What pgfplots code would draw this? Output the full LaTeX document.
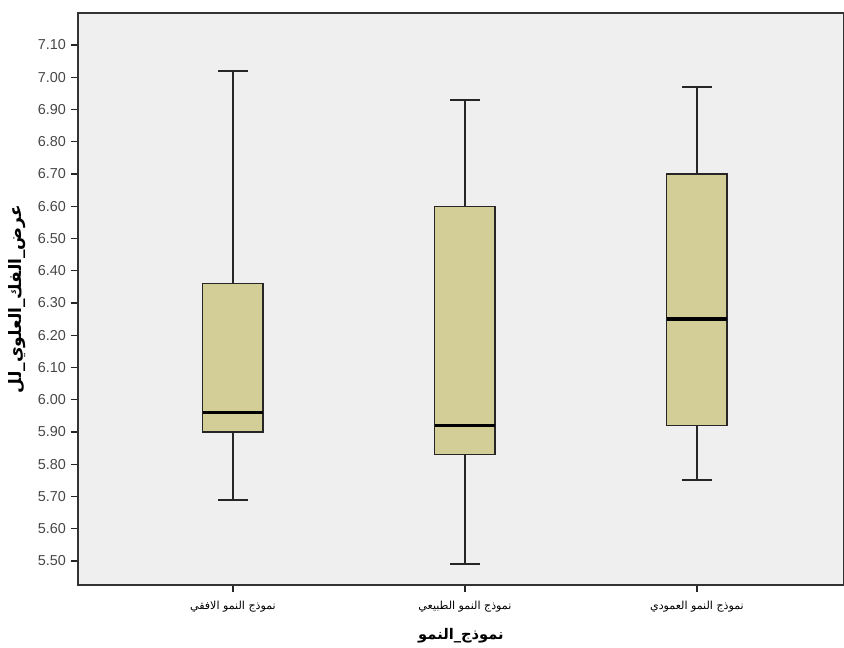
\documentclass[border=0pt]{standalone}
\usepackage{fontspec}
\setmainfont{Liberation Sans}
\newfontfamily\arabicfont[Script=Arabic]{DejaVu Sans}
\TeXXeTstate=1
\usepackage{pgfplots}
\pgfplotsset{compat=1.18}
\definecolor{bgc}{HTML}{EFEFEF}
\definecolor{boxc}{HTML}{D3CE97}
\begin{document}
\begin{tikzpicture}
\begin{axis}[
  scale only axis,
  width=574.5pt, height=429pt,
  xmin=-0.668, xmax=2.634,
  ymin=5.4256, ymax=7.199,
  axis background/.style={fill=bgc},
  axis line style={black!80, line width=1.2pt},
  tick align=outside,
  tick style={black!85, line width=1pt},
  major tick length=5.5pt,
  ytick pos=left, xtick pos=bottom,
  ytick={5.5,5.6,5.7,5.8,5.9,6.0,6.1,6.2,6.3,6.4,6.5,6.6,6.7,6.8,6.9,7.0,7.1},
  yticklabel style={/pgf/number format/fixed, /pgf/number format/fixed zerofill, /pgf/number format/precision=2, font=\fontsize{10.8}{12}\selectfont, text=black!72},
  /pgf/number format/assume math mode=true,
  xtick={0,1,2},
  xticklabels={{\arabicfont\beginR نموذج النمو الافقي\endR},{\arabicfont\beginR نموذج النمو الطبيعي\endR},{\arabicfont\beginR نموذج النمو العمودي\endR}},
  xticklabel style={font=\fontsize{8.3}{9}\selectfont, yshift=-3pt},
  xlabel={\arabicfont\bfseries\beginR نموذج\_النمو\endR},
  xlabel style={font=\fontsize{11}{12}\selectfont, yshift=-5pt},
  ylabel={\arabicfont\bfseries\beginR عرض\_الفك\_العلوي\_لل\endR},
  ylabel style={font=\fontsize{12.8}{14}\selectfont, yshift=2pt},
  boxs/.style={fill=boxc, draw=black!85, line width=1pt, mark=none, line join=miter},
  whisk/.style={draw=black!85, line width=1.4pt, mark=none},
  med/.style={draw=black, line width=2.4pt, mark=none},
]
% box 1: lw=5.69 q1=5.90 med=5.96 q3=6.36 uw=7.02
\addplot[whisk] coordinates {(0,6.36) (0,7.02)};
\addplot[whisk] coordinates {(0,5.90) (0,5.69)};
\addplot[whisk] coordinates {(-0.065,7.02) (0.065,7.02)};
\addplot[whisk] coordinates {(-0.065,5.69) (0.065,5.69)};
\addplot[boxs] coordinates {(-0.13,5.90) (0.13,5.90) (0.13,6.36) (-0.13,6.36)} -- cycle;
\addplot[med] coordinates {(-0.13,5.96) (0.13,5.96)};
% box 2: lw=5.49 q1=5.83 med=5.92 q3=6.60 uw=6.93
\addplot[whisk] coordinates {(1,6.60) (1,6.93)};
\addplot[whisk] coordinates {(1,5.83) (1,5.49)};
\addplot[whisk] coordinates {(0.935,6.93) (1.065,6.93)};
\addplot[whisk] coordinates {(0.935,5.49) (1.065,5.49)};
\addplot[boxs] coordinates {(0.87,5.83) (1.13,5.83) (1.13,6.60) (0.87,6.60)} -- cycle;
\addplot[med] coordinates {(0.87,5.92) (1.13,5.92)};
% box 3: lw=5.75 q1=5.92 med=6.25 q3=6.70 uw=6.97
\addplot[whisk] coordinates {(2,6.70) (2,6.97)};
\addplot[whisk] coordinates {(2,5.92) (2,5.75)};
\addplot[whisk] coordinates {(1.935,6.97) (2.065,6.97)};
\addplot[whisk] coordinates {(1.935,5.75) (2.065,5.75)};
\addplot[boxs] coordinates {(1.87,5.92) (2.13,5.92) (2.13,6.70) (1.87,6.70)} -- cycle;
\addplot[med] coordinates {(1.87,6.25) (2.13,6.25)};
\coordinate (ll) at (rel axis cs:0,0);
\coordinate (ur) at (rel axis cs:1,1);
\end{axis}
\pgfresetboundingbox
\path ([xshift=-58.5pt,yshift=-47.25pt]ll) rectangle ([yshift=9.75pt]ur);
\end{tikzpicture}
\end{document}
